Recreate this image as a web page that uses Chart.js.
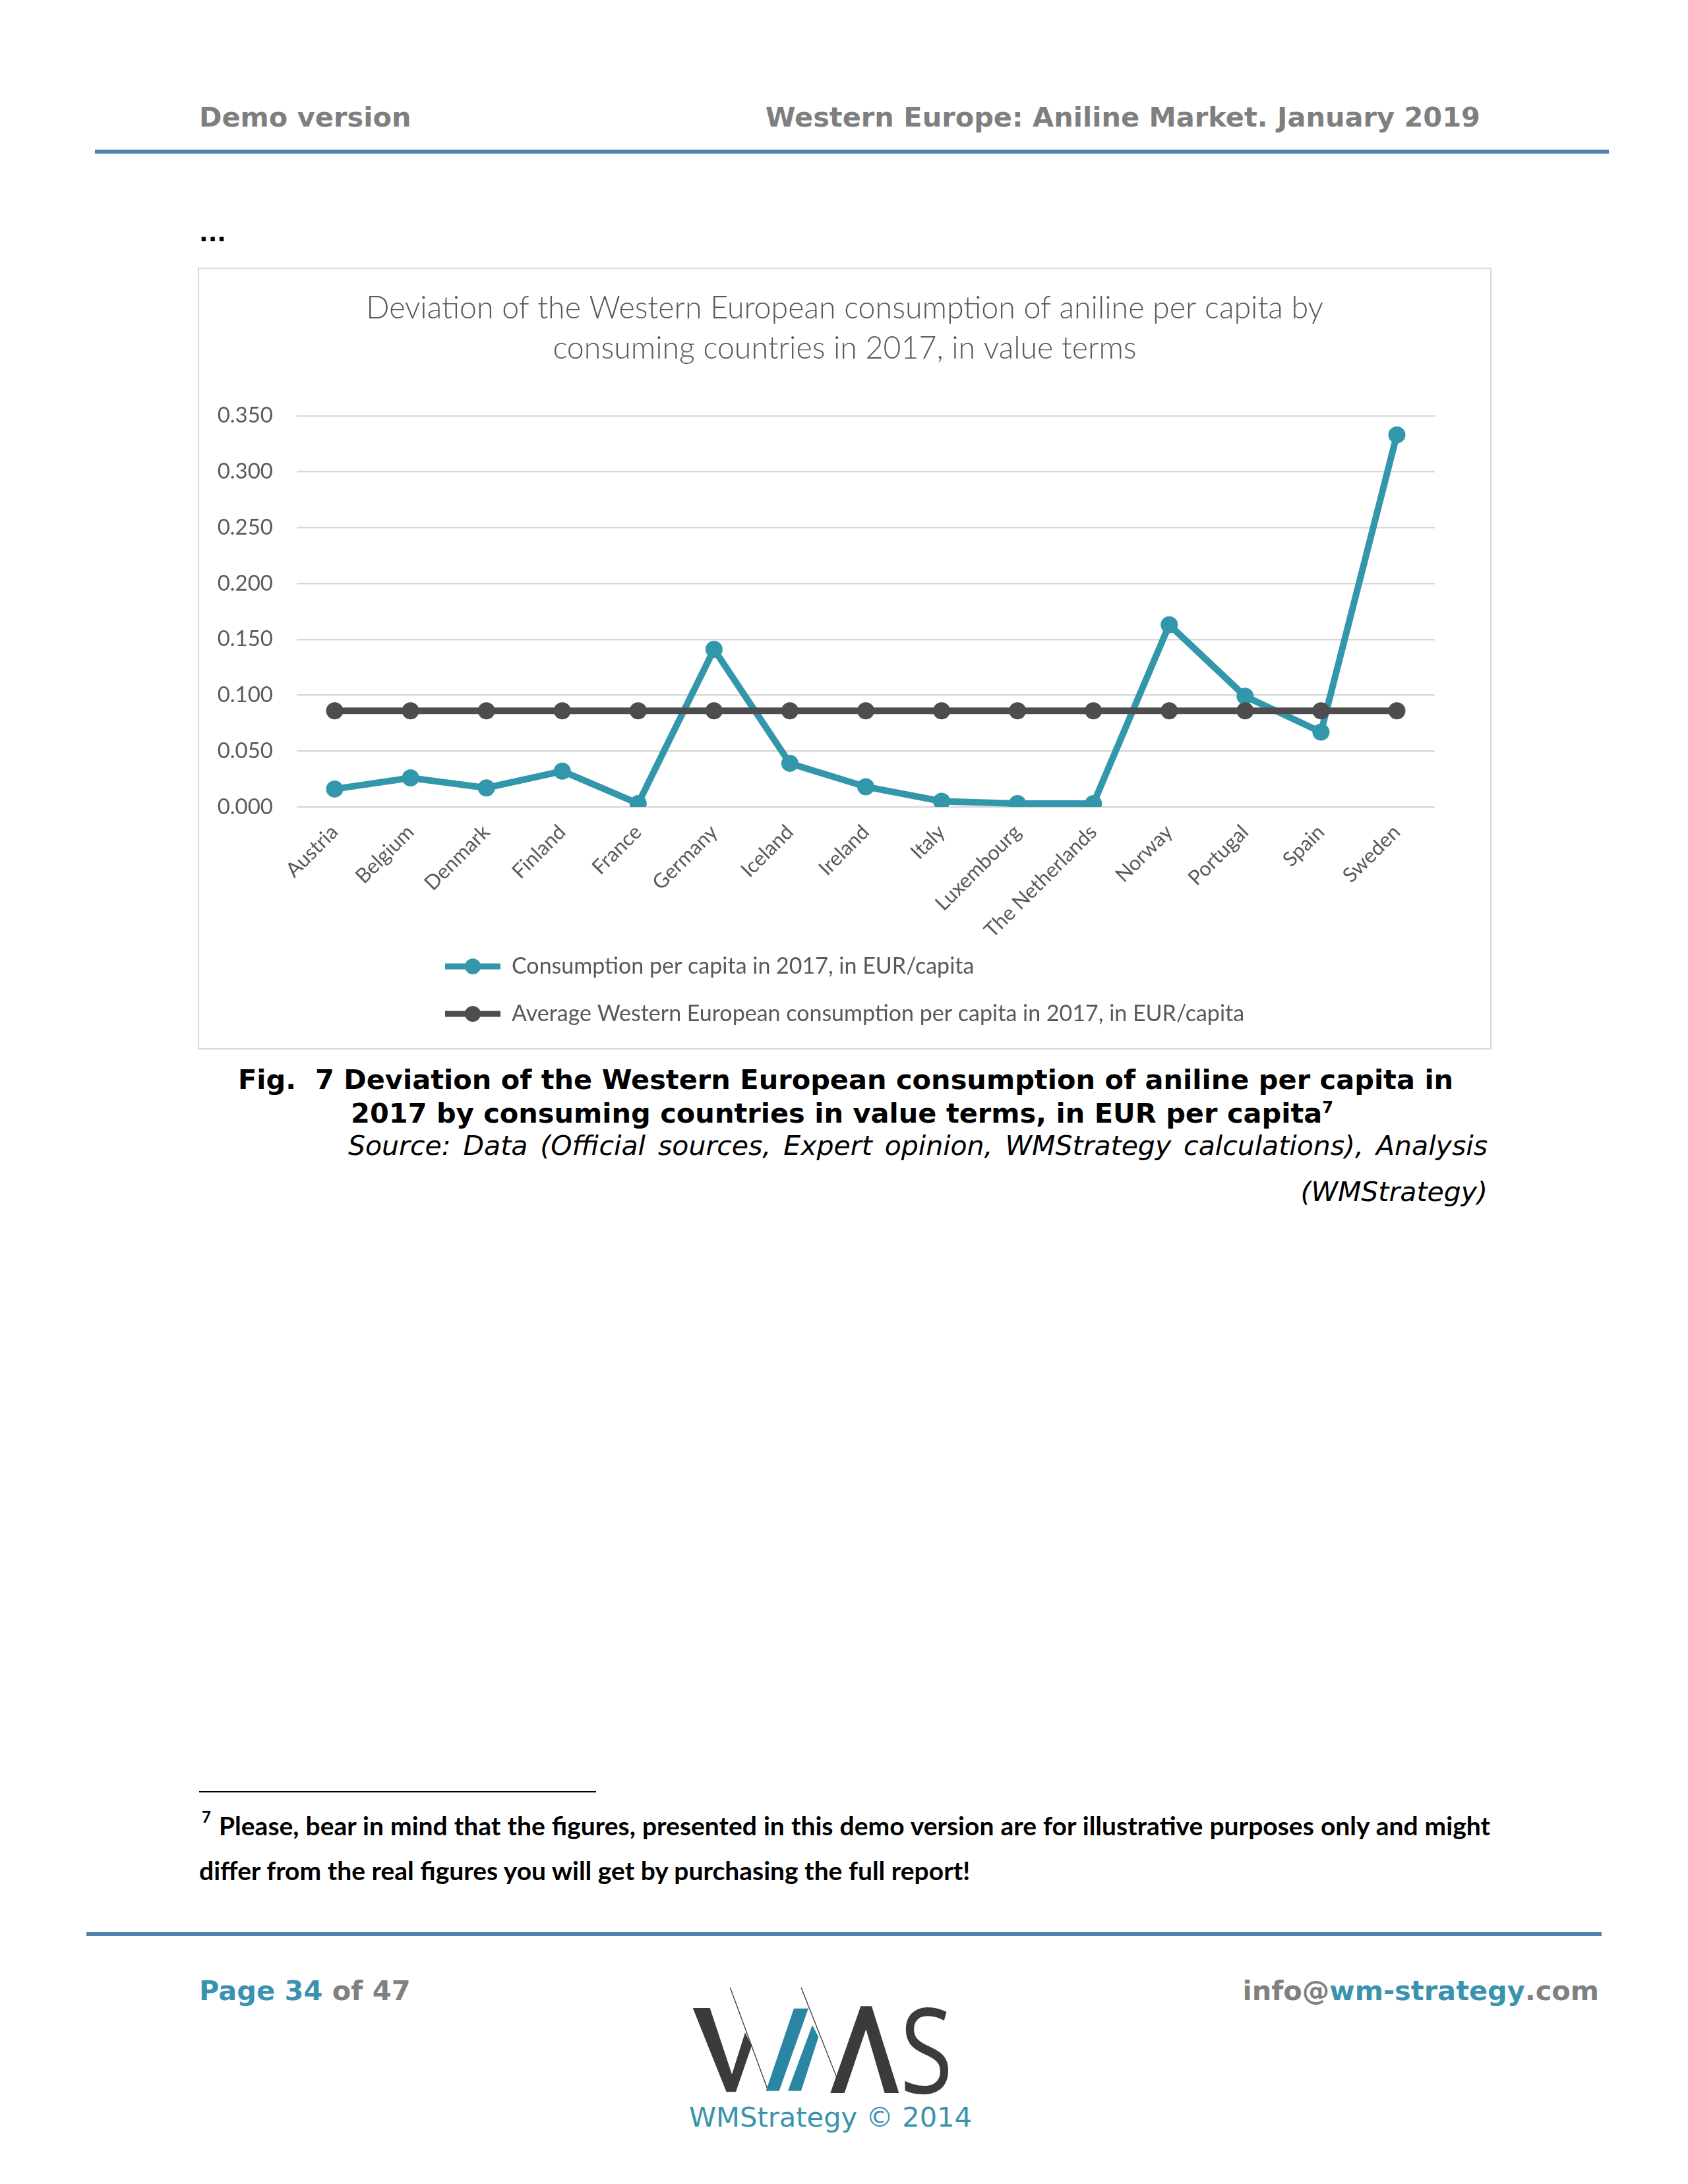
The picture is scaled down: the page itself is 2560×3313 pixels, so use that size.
<!DOCTYPE html>
<html>
<head>
<meta charset="utf-8">
<script src="https://cdn.jsdelivr.net/npm/chart.js@4.4.1/dist/chart.umd.min.js"></script>
<style>
body { margin: 0; background: #fff; }
#page { position: relative; width: 2560px; height: 3313px; overflow: hidden; font-family: "DejaVu Sans", sans-serif; }
.t { position: absolute; white-space: nowrap; line-height: 1; }
.hdr { font-size: 41.5px; font-weight: bold; color: #7f7f7f; }
.rule { position: absolute; background: #4f83ad; }
.cap { font-size: 41.5px; font-weight: bold; color: #000; }
.src { font-size: 41px; font-style: italic; color: #000; }
.jst { text-align: justify; text-align-last: justify; }
.foot { font-family: Lato, sans-serif; font-weight: bold; font-size: 39px; color: #000; }
.pg { font-size: 41.5px; font-weight: bold; color: #808080; }
.pg b { color: #3a93ae; }
#box { position: absolute; left: 300px; top: 406px; width: 1958px; height: 1182px; border: 2px solid #d9d9d9; }
#myChart { position: absolute; left: 0; top: 0; }
</style>
</head>
<body>
<div id="page">
  <div class="t hdr" style="left:302px; top:157px;">Demo version</div>
  <div class="t hdr" style="right:315px; top:157px;">Western Europe: Aniline Market. January 2019</div>
  <div class="rule" style="left:144px; top:227px; width:2296px; height:6px;"></div>
  <div class="t" style="left:302px; top:336px; font-size:36px; font-weight:bold;">...</div>

  <div id="box"><canvas id="myChart" width="1958" height="1182"></canvas></div>

  <div class="t cap" style="left:361px; top:1617px;">Fig.&nbsp; 7 Deviation of the Western European consumption of aniline per capita in</div>
  <div class="t cap" style="left:532px; top:1668px;">2017 by consuming countries in value terms, in EUR per capita<sup style="font-size:24px;">7</sup></div>
  <div class="t src jst" style="left:528px; top:1718px; width:1728px;">Source: Data (Official sources, Expert opinion, WMStrategy calculations), Analysis</div>
  <div class="t src" style="right:304px; top:1788px;">(WMStrategy)</div>

  <div style="position:absolute; left:302px; top:2717px; width:602px; height:2px; background:#000;"></div>
  <div class="t foot" style="left:306px; top:2744px; font-size:24px;">7</div>
  <div class="t foot jst" style="left:332px; top:2750px; width:1928px;">Please, bear in mind that the figures, presented in this demo version are for illustrative purposes only and might</div>
  <div class="t foot" style="left:302px; top:2818px;">differ from the real figures you will get by purchasing the full report!</div>

  <div class="rule" style="left:131px; top:2931px; width:2298px; height:6px;"></div>
  <div class="t pg" style="left:302px; top:2999px;"><b>Page 34</b> of 47</div>
  <div class="t pg" style="right:135px; top:2999px;">info@<b>wm-strategy</b>.com</div>

  <svg style="position:absolute; left:1030px; top:2990px;" width="500" height="270" viewBox="0 0 1500 810">
    <polygon points="62,168 140,168 240,470 300,280 330,340 258,550 215,550" fill="#3b3b3b"/>
    <line x1="232" y1="75" x2="405" y2="545" stroke="#3b3b3b" stroke-width="4"/>
    <polygon points="395,545 455,545 588,170 522,170" fill="#2a86a3"/>
    <polygon points="495,545 555,545 634,300 606,245" fill="#2a86a3"/>
    <line x1="555" y1="75" x2="745" y2="555" stroke="#3b3b3b" stroke-width="4"/>
    <polygon points="688,555 752,555 850,265 935,555 1000,555 876,160 826,160" fill="#3b3b3b"/>
    <text x="1005" y="555" font-family="Open Sans" font-size="540" fill="#3b3b3b" textLength="240" lengthAdjust="spacingAndGlyphs">S</text>
    <text x="45" y="708" font-family="DejaVu Sans" font-size="125" fill="#3a93ae" textLength="1287" lengthAdjust="spacingAndGlyphs">WMStrategy © 2014</text>
  </svg>
</div>

<script>
const countries = ['Austria', 'Belgium', 'Denmark', 'Finland', 'France', 'Germany', 'Iceland', 'Ireland',
    'Italy', 'Luxembourg', 'The Netherlands', 'Norway', 'Portugal', 'Spain', 'Sweden'];
const consumption = [0.016, 0.026, 0.017, 0.032, 0.003, 0.141, 0.039, 0.018,
    0.005, 0.003, 0.003, 0.163, 0.099, 0.067, 0.333];
const average = [0.086, 0.086, 0.086, 0.086, 0.086, 0.086, 0.086, 0.086,
    0.086, 0.086, 0.086, 0.086, 0.086, 0.086, 0.086];
const seriesNames = ['Consumption per capita in 2017, in EUR/capita',
    'Average Western European consumption per capita in 2017, in EUR/capita'];
const titleLines = ['Deviation of the Western European consumption of aniline per capita by',
    'consuming countries in 2017, in value terms'];

const teal = '#3397ab';
const grey = '#4d4d4d';
const textGrey = '#595959';

// line with a dot in the middle, like the Excel legend
function legendMarker(color){
    const c = document.createElement('canvas');
    c.width = 84;
    c.height = 26;
    const g = c.getContext('2d');
    g.strokeStyle = color;
    g.lineWidth = 9;
    g.beginPath();
    g.moveTo(0, 13);
    g.lineTo(84, 13);
    g.stroke();
    g.fillStyle = color;
    g.beginPath();
    g.arc(42, 13, 12, 0, Math.PI * 2);
    g.fill();
    return c;
}
const markers = [legendMarker(teal), legendMarker(grey)];

function createChart(){
    const ctx = document.getElementById('myChart').getContext('2d');
    const myChart = new Chart(ctx, {
        type: 'line',
        data: {
            labels: countries,
            datasets: [{
                label: seriesNames[0],
                data: consumption,
                borderColor: teal,
                backgroundColor: teal,
                pointBackgroundColor: teal,
                borderWidth: 10,
                pointRadius: 13,
                pointBorderWidth: 0,
                order: 1
            }, {
                label: seriesNames[1],
                data: average,
                borderColor: grey,
                backgroundColor: grey,
                pointBackgroundColor: grey,
                borderWidth: 10,
                pointRadius: 13,
                pointBorderWidth: 0,
                order: 0
            }]
        },
        options: {
            responsive: false,
            animation: false,
            devicePixelRatio: 1,
            layout: { padding: { right: 84, bottom: 29 } },
            plugins: {
                title: {
                    display: true,
                    text: titleLines,
                    color: textGrey,
                    font: { family: 'Lato', size: 46.5, weight: '300', lineHeight: 1.31 },
                    padding: { top: 30, bottom: 71 }
                },
                legend: {
                    position: 'bottom',
                    align: 'start',
                    labels: {
                        usePointStyle: true,
                        pointStyleWidth: 84,
                        color: textGrey,
                        font: { family: 'Lato', size: 34 },
                        padding: 38,
                        sort: (a, b) => a.datasetIndex - b.datasetIndex,
                        generateLabels(chart){
                            const items = Chart.defaults.plugins.legend.labels.generateLabels(chart);
                            items.forEach((item) => { item.pointStyle = markers[item.datasetIndex]; });
                            return items;
                        }
                    }
                },
                tooltip: { enabled: false }
            },
            scales: {
                x: {
                    offset: true,
                    grid: { display: false },
                    border: { display: false },
                    ticks: {
                        color: textGrey,
                        font: { family: 'Lato', size: 31 },
                        maxRotation: 45,
                        minRotation: 45,
                        padding: 12
                    },
                    afterFit(scale){ scale.height = 183; }
                },
                y: {
                    min: 0,
                    max: 0.35,
                    grid: { color: '#d9d9d9', lineWidth: 2.5, drawTicks: false },
                    border: { display: false },
                    ticks: {
                        stepSize: 0.05,
                        padding: 36,
                        color: textGrey,
                        font: { family: 'Lato', size: 33 },
                        callback: (v) => v.toFixed(3)
                    },
                    afterFit(scale){ scale.width = 148; }
                }
            }
        },
        plugins: [{
            id: 'legendLeft',
            afterLayout(chart){
                chart.legend.left = 335;
                chart.legend.top += 4;
                // centre the title over the whole box, not only the padded part
                chart.titleBlock.left = 0;
                chart.titleBlock.right = chart.width;
                // let long rotated labels run below the axis box instead of being clipped
                chart.scales.x.bottom += 40;
            }
        }]
    });
    return myChart;
}

createChart();
</script>
</body>
</html>
